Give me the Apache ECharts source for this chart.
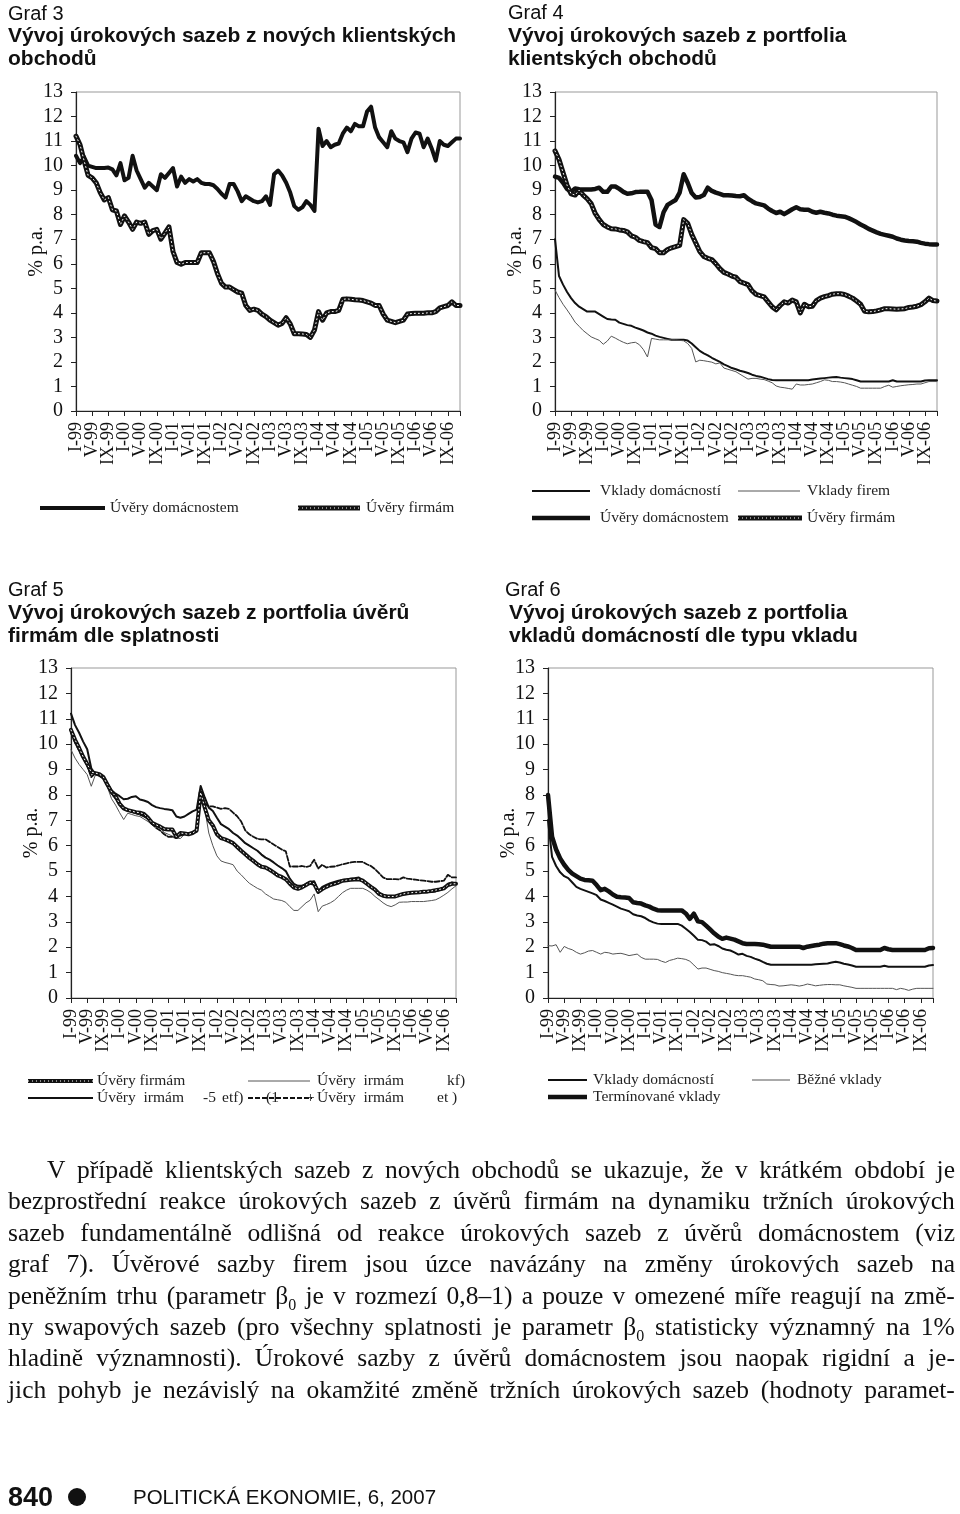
<!DOCTYPE html>
<html><head><meta charset="utf-8">
<script src="https://cdn.jsdelivr.net/npm/echarts@6/dist/echarts.min.js"></script>
<style>
html,body{margin:0;padding:0;background:#fff;}
#page{position:relative;width:960px;height:1514px;overflow:hidden;background:#fff;}
#chart{position:absolute;left:0;top:0;width:960px;height:1514px;}
.t{position:absolute;font-family:'Liberation Sans',Arial,sans-serif;color:#111;white-space:nowrap;line-height:24px;height:24px;}
.g{font-size:20px;}
.b{font-size:21px;font-weight:bold;}
.pl{position:absolute;left:8px;width:947px;display:flex;justify-content:space-between;font-family:'Liberation Serif','Times New Roman',serif;font-size:25.5px;line-height:30px;height:30px;color:#111;white-space:nowrap;}
.pl span{display:inline-block;}
.pl sub{font-size:16px;line-height:0;}
</style></head>
<body><div id="page"><div id="chart"></div>
<div class="t g" style="left:8px;top:1px">Graf 3</div>
<div class="t b" style="left:8px;top:23px">Vývoj úrokových sazeb z nových klientských</div>
<div class="t b" style="left:8px;top:46px">obchodů</div>
<div class="t g" style="left:508px;top:0px">Graf 4</div>
<div class="t b" style="left:508px;top:23px">Vývoj úrokových sazeb z portfolia</div>
<div class="t b" style="left:508px;top:46px">klientských obchodů</div>
<div class="t g" style="left:8px;top:577px">Graf 5</div>
<div class="t b" style="left:8px;top:600px">Vývoj úrokových sazeb z portfolia úvěrů</div>
<div class="t b" style="left:8px;top:623px">firmám dle splatnosti</div>
<div class="t g" style="left:505px;top:577px">Graf 6</div>
<div class="t b" style="left:509px;top:600px">Vývoj úrokových sazeb z portfolia</div>
<div class="t b" style="left:509px;top:623px">vkladů domácností dle typu vkladu</div>
<div id="para"></div>
<div class="t" style="left:8px;top:1482px;font-size:27px;font-weight:bold;height:30px;line-height:30px;">840</div>
<div style="position:absolute;left:68px;top:1488px;width:18px;height:18px;border-radius:50%;background:#111;"></div>
<div class="t" style="left:133px;top:1484px;font-size:20.5px;height:26px;line-height:26px;">POLITICKÁ EKONOMIE, 6, 2007</div>
</div>
<script>
// ---- categories ----
const romanMonths = ['I','II','III','IV','V','VI','VII','VIII','IX','X','XI','XII'];
const yearSuffixes = ['99','00','01','02','03','04','05','06'];
const months = [];
yearSuffixes.forEach(y => romanMonths.forEach(m => months.push(m + '-' + y)));
const yTicks = [0,1,2,3,4,5,6,7,8,9,10,11,12,13];

// ---- Graf 3 ----
const g3UveryDomacnostem = [10.4,10.1,10.35,10.0,9.95,9.9,9.9,9.9,9.92,9.85,9.6,10.1,9.4,9.5,10.4,9.8,9.45,9.1,9.3,9.15,9.0,9.65,9.5,9.7,9.9,9.15,9.55,9.3,9.45,9.35,9.45,9.3,9.25,9.25,9.2,9.05,8.85,8.7,9.25,9.25,8.95,8.55,8.75,8.65,8.55,8.5,8.55,8.75,8.4,9.65,9.8,9.6,9.3,8.9,8.35,8.2,8.3,8.55,8.4,8.15,11.5,10.8,11.0,10.75,10.85,10.9,11.3,11.55,11.4,11.7,11.6,11.6,12.2,12.4,11.55,11.15,10.95,10.75,11.4,11.1,11.0,10.95,10.55,11.1,11.35,11.3,10.75,11.1,10.7,10.2,11.0,10.85,10.8,10.95,11.1,11.1];
const g3UveryFirmam = [11.2,10.85,10.2,9.6,9.5,9.3,8.9,8.6,8.7,8.2,8.15,7.6,7.95,7.7,7.4,7.7,7.65,7.7,7.2,7.35,7.4,7.0,7.25,7.5,6.5,6.05,5.98,6.05,6.05,6.05,6.05,6.45,6.45,6.45,6.1,5.6,5.2,5.05,5.05,4.95,4.85,4.8,4.3,4.1,4.15,4.1,3.95,3.85,3.7,3.6,3.5,3.57,3.8,3.55,3.15,3.15,3.14,3.12,3.0,3.3,4.05,3.7,4.0,4.05,4.05,4.1,4.55,4.57,4.55,4.53,4.52,4.5,4.45,4.4,4.3,4.3,3.95,3.7,3.65,3.6,3.65,3.7,3.95,3.97,3.98,3.98,3.98,4.0,4.0,4.05,4.2,4.25,4.3,4.45,4.3,4.3];

// ---- Graf 4 ----
const g4VkladyDomacnosti = [7.0,5.5,5.15,4.85,4.6,4.4,4.25,4.15,4.05,4.05,4.05,3.95,3.85,3.75,3.73,3.72,3.6,3.55,3.5,3.47,3.4,3.34,3.28,3.2,3.15,3.07,3.02,2.98,2.94,2.9,2.9,2.9,2.9,2.87,2.75,2.6,2.45,2.35,2.27,2.17,2.08,2.0,1.9,1.83,1.75,1.7,1.64,1.6,1.55,1.48,1.43,1.4,1.35,1.3,1.26,1.25,1.25,1.25,1.25,1.25,1.25,1.25,1.25,1.25,1.28,1.3,1.32,1.34,1.36,1.38,1.39,1.36,1.34,1.32,1.3,1.25,1.2,1.2,1.2,1.2,1.2,1.2,1.2,1.2,1.25,1.2,1.2,1.2,1.2,1.2,1.2,1.2,1.24,1.25,1.25,1.25];
const g4VkladyFirem = [4.93,4.62,4.35,4.12,3.88,3.62,3.45,3.28,3.15,3.02,2.95,2.88,2.72,2.85,3.05,2.97,2.88,2.8,2.74,2.78,2.8,2.7,2.5,2.2,2.96,2.93,2.9,2.9,2.9,2.9,2.9,2.88,2.86,2.75,2.55,2.0,2.07,2.05,2.02,1.99,1.92,1.96,1.75,1.7,1.65,1.6,1.5,1.4,1.3,1.33,1.33,1.3,1.28,1.22,1.15,1.02,0.97,0.95,0.92,0.89,1.1,1.06,1.06,1.08,1.1,1.15,1.2,1.27,1.25,1.2,1.2,1.18,1.15,1.1,1.05,1.0,0.93,0.93,0.93,0.93,0.93,0.93,1.0,1.05,0.97,1.0,1.03,1.05,1.07,1.08,1.1,1.1,1.15,1.2,1.2,1.2];
const g4UveryDomacnostem = [9.55,9.5,9.3,9.05,8.93,9.07,9.04,9.03,9.03,9.03,9.05,9.1,8.93,8.93,9.15,9.15,9.05,8.93,8.85,8.87,8.92,8.93,8.93,8.93,8.6,7.6,7.5,8.1,8.4,8.5,8.6,8.9,9.65,9.3,8.88,8.7,8.72,8.8,9.1,8.97,8.9,8.85,8.79,8.79,8.78,8.76,8.75,8.79,8.65,8.55,8.46,8.42,8.38,8.25,8.15,8.07,8.12,8.02,8.12,8.22,8.3,8.22,8.2,8.2,8.12,8.08,8.12,8.08,8.05,8.0,7.96,7.94,7.92,7.86,7.78,7.7,7.6,7.52,7.42,7.35,7.28,7.22,7.18,7.14,7.1,7.03,6.98,6.95,6.93,6.92,6.9,6.85,6.82,6.8,6.79,6.79];
const g4UveryFirmam = [10.6,10.25,9.72,9.2,8.85,8.8,9.0,8.8,8.65,8.45,8.05,7.8,7.6,7.5,7.43,7.42,7.38,7.36,7.3,7.14,7.08,6.95,6.9,6.86,6.66,6.62,6.45,6.45,6.58,6.65,6.7,6.75,7.8,7.65,7.2,6.85,6.5,6.3,6.22,6.17,6.0,5.8,5.65,5.58,5.5,5.45,5.27,5.21,5.15,4.9,4.75,4.7,4.65,4.45,4.25,4.12,4.3,4.45,4.4,4.52,4.45,4.0,4.35,4.25,4.27,4.5,4.6,4.66,4.7,4.76,4.78,4.78,4.75,4.68,4.6,4.48,4.35,4.06,4.04,4.05,4.08,4.12,4.17,4.17,4.16,4.15,4.16,4.17,4.22,4.24,4.27,4.33,4.45,4.6,4.5,4.48];

// ---- Graf 5 ----
const g5UveryFirmam = [10.56,10.17,9.85,9.5,9.22,8.9,8.86,8.82,8.7,8.4,8.12,7.95,7.65,7.47,7.4,7.36,7.32,7.3,7.25,7.1,6.9,6.82,6.75,6.66,6.64,6.64,6.35,6.5,6.48,6.45,6.5,6.6,8.1,7.5,7.0,6.8,6.45,6.3,6.25,6.18,6.1,5.95,5.8,5.66,5.52,5.4,5.27,5.17,5.14,5.05,4.95,4.83,4.77,4.68,4.5,4.35,4.3,4.36,4.45,4.55,4.5,4.18,4.29,4.38,4.45,4.5,4.55,4.62,4.64,4.66,4.67,4.68,4.62,4.5,4.38,4.27,4.1,4.03,4.0,4.0,4.0,4.05,4.1,4.13,4.15,4.16,4.17,4.19,4.2,4.22,4.25,4.28,4.32,4.45,4.5,4.5];
const g5Kratkodobe = [9.78,9.45,9.2,9.0,8.8,8.34,8.78,8.78,8.6,8.3,7.85,7.6,7.3,7.03,7.28,7.23,7.18,7.15,7.05,6.95,6.83,6.76,6.7,6.52,6.45,6.38,6.3,6.28,6.45,6.5,6.55,6.58,7.9,7.45,6.5,6.0,5.6,5.4,5.34,5.3,5.25,5.0,4.85,4.68,4.52,4.42,4.32,4.25,4.1,4.0,3.9,3.87,3.84,3.77,3.6,3.45,3.45,3.6,3.75,3.85,4.1,3.4,3.62,3.68,3.75,3.85,4.0,4.15,4.25,4.32,4.32,4.32,4.32,4.25,4.15,4.0,3.88,3.75,3.65,3.6,3.67,3.77,3.78,3.78,3.8,3.8,3.8,3.8,3.82,3.84,3.87,3.95,4.05,4.16,4.3,4.42];
const g5Stredne = [11.2,10.75,10.45,10.1,9.8,9.05,8.82,8.75,8.65,8.45,8.18,8.05,7.95,7.83,7.85,7.92,7.95,7.82,7.78,7.72,7.6,7.52,7.48,7.45,7.43,7.4,7.15,7.1,7.15,7.25,7.35,7.42,8.35,7.9,7.5,7.37,7.1,6.85,6.75,6.65,6.5,6.4,6.25,6.1,6.0,5.9,5.8,5.65,5.53,5.45,5.34,5.22,5.12,5.0,4.7,4.5,4.42,4.42,4.5,4.57,4.6,4.2,4.38,4.45,4.52,4.57,4.62,4.65,4.67,4.7,4.72,4.75,4.6,4.5,4.4,4.3,4.15,4.05,4.02,4.0,4.0,4.05,4.1,4.13,4.15,4.16,4.16,4.17,4.17,4.18,4.2,4.25,4.3,4.5,4.55,4.5];
const g5Dlouhodobe = [10.45,10.05,9.75,9.45,9.15,8.7,8.85,8.8,8.68,8.38,8.05,7.85,7.6,7.45,7.4,7.32,7.28,7.22,7.15,7.05,6.85,6.7,6.6,6.45,6.35,6.35,6.3,6.4,6.45,6.45,6.5,6.55,8.0,7.65,7.55,7.55,7.5,7.45,7.48,7.45,7.3,7.16,6.95,6.6,6.45,6.35,6.27,6.25,6.25,6.15,6.05,5.95,5.85,5.78,5.18,5.18,5.18,5.2,5.16,5.2,5.45,5.1,5.25,5.14,5.17,5.18,5.22,5.27,5.3,5.34,5.36,5.36,5.36,5.27,5.2,5.08,4.92,4.75,4.68,4.68,4.68,4.67,4.75,4.7,4.68,4.66,4.64,4.62,4.6,4.58,4.58,4.6,4.62,4.85,4.75,4.75];

// ---- Graf 6 ----
const g6VkladyDomacnosti = [7.0,5.56,5.2,4.95,4.8,4.72,4.55,4.38,4.3,4.24,4.18,4.12,4.05,3.88,3.82,3.75,3.68,3.6,3.52,3.47,3.42,3.3,3.25,3.22,3.15,3.05,2.98,2.93,2.92,2.92,2.92,2.92,2.92,2.85,2.73,2.6,2.45,2.29,2.28,2.22,2.1,2.12,2.05,1.95,1.9,1.87,1.8,1.71,1.74,1.66,1.62,1.55,1.5,1.42,1.35,1.31,1.31,1.31,1.31,1.31,1.31,1.31,1.31,1.31,1.31,1.31,1.33,1.34,1.35,1.36,1.4,1.43,1.4,1.35,1.32,1.28,1.23,1.23,1.23,1.23,1.23,1.23,1.23,1.27,1.23,1.23,1.23,1.23,1.23,1.23,1.23,1.23,1.23,1.23,1.28,1.3];
const g6BezneVklady = [2.06,2.05,2.1,1.8,2.03,1.95,1.9,1.8,1.73,1.78,1.85,1.87,1.8,1.73,1.8,1.78,1.73,1.75,1.76,1.72,1.67,1.7,1.73,1.6,1.53,1.53,1.53,1.52,1.45,1.4,1.48,1.52,1.57,1.55,1.52,1.45,1.3,1.14,1.18,1.18,1.13,1.08,1.05,1.0,0.97,0.94,0.9,0.88,0.88,0.85,0.82,0.75,0.72,0.68,0.55,0.53,0.52,0.47,0.48,0.5,0.52,0.5,0.47,0.5,0.55,0.52,0.48,0.5,0.52,0.53,0.53,0.52,0.52,0.48,0.45,0.42,0.38,0.38,0.38,0.38,0.38,0.38,0.38,0.38,0.38,0.38,0.33,0.38,0.35,0.3,0.35,0.38,0.38,0.38,0.38,0.38];
const g6Terminovane = [8.0,6.35,5.85,5.5,5.25,5.05,4.9,4.8,4.7,4.65,4.64,4.62,4.45,4.25,4.3,4.2,4.08,3.99,3.97,3.96,3.94,3.77,3.74,3.72,3.65,3.6,3.52,3.46,3.45,3.45,3.45,3.45,3.45,3.45,3.33,3.12,3.32,3.02,2.99,2.85,2.7,2.55,2.42,2.33,2.38,2.34,2.3,2.23,2.16,2.13,2.13,2.13,2.12,2.1,2.06,2.02,2.02,2.02,2.02,2.02,2.02,2.02,2.02,1.97,2.02,2.05,2.08,2.1,2.14,2.16,2.16,2.16,2.12,2.07,2.03,1.97,1.89,1.89,1.89,1.89,1.89,1.89,1.89,1.97,1.92,1.89,1.89,1.89,1.89,1.89,1.89,1.89,1.89,1.89,1.96,1.97];

// ---- paragraph ----
const paraLines = [
 'V případě klientských sazeb z nových obchodů se ukazuje, že v krátkém období je',
 'bezprostřední reakce úrokových sazeb z úvěrů firmám na dynamiku tržních úrokových',
 'sazeb fundamentálně odlišná od reakce úrokových sazeb z úvěrů domácnostem (viz',
 'graf 7). Úvěrové sazby firem jsou úzce navázány na změny úrokových sazeb na',
 'peněžním trhu (parametr β<sub>0</sub> je v rozmezí 0,8–1) a pouze v omezené míře reagují na změ-',
 'ny swapových sazeb (pro všechny splatnosti je parametr β<sub>0</sub> statisticky významný na 1%',
 'hladině významnosti). Úrokové sazby z úvěrů domácnostem jsou naopak rigidní a je-',
 'jich pohyb je nezávislý na okamžité změně tržních úrokových sazeb (hodnoty paramet-'
];
const para = document.getElementById('para');
paraLines.forEach((ln, i) => {
  const d = document.createElement('div');
  d.className = 'pl';
  d.style.top = (1155 + i * 31.4) + 'px';
  const avail = i === 0 ? 908 : 947;
  if (i === 0) { d.style.left = '47px'; }
  d.style.width = avail + 'px';
  const words = ln.split(' ');
  d.innerHTML = words.map(w => '<span>' + w + '</span>').join('');
  para.appendChild(d);
  let total = 0; let chars = 0;
  d.querySelectorAll('span').forEach(s => { total += s.getBoundingClientRect().width; chars += s.textContent.length; });
  const need = total + (words.length - 1) * 4;
  if (need > avail) { d.style.letterSpacing = (-(need - avail) / chars) + 'px'; }
});

// ---- chart ----
const serif = "'Liberation Serif','Times New Roman',serif";
const grids = [
  {left:76, top:92, width:384, height:319},
  {left:555, top:92, width:382, height:319},
  {left:71, top:668, width:385, height:330},
  {left:548, top:668, width:385, height:330}
];
function xAx(i){ return {type:'category', gridIndex:i, data:months, boundaryGap:false,
  axisLine:{show:true, lineStyle:{color:'#222', width:1.2}},
  axisTick:{show:true, interval:3, length:5, lineStyle:{color:'#222'}},
  axisLabel:{interval:0, formatter:(val, idx) => (idx % 4 === 0 ? val : ''), hideOverlap:false,
    rotate:90, margin:11, fontFamily:serif, fontSize:18, color:'#111'},
  splitLine:{show:false}}; }
function yAx(i){ return {type:'value', gridIndex:i, min:yTicks[0], max:yTicks[yTicks.length-1], interval:1,
  name:'% p.a.', nameLocation:'middle', nameGap:29, nameRotate:90, nameMoveOverlap:false,
  nameTextStyle:{fontFamily:serif, fontSize:20, color:'#111'},
  axisLine:{show:true, lineStyle:{color:'#222', width:1.2}},
  axisTick:{show:true, length:5, lineStyle:{color:'#222'}},
  axisLabel:{margin:13, fontFamily:serif, fontSize:20, color:'#111'},
  splitLine:{show:false}}; }
function ln(name, gi, data, color, width, type, z){ return {type:'line', name:name, xAxisIndex:gi, yAxisIndex:gi, data:data,
  symbol:'none', silent:true, animation:false, z:z||2, lineStyle:{color:color, width:width, type:type||'solid', join:'round', cap:'round'}}; }
function tex(name, gi, data, width){ return [ln(name, gi, data, '#111', width, 'solid', 3),
  ln(name+'_t', gi, data, '#fff', 1, [1,3], 4)]; }

const series = [
  ln('Úvěry domácnostem', 0, g3UveryDomacnostem, '#111', 4),
  ...tex('Úvěry firmám', 0, g3UveryFirmam, 5),
  ln('Vklady domácností', 1, g4VkladyDomacnosti, '#111', 2),
  ln('Vklady firem', 1, g4VkladyFirem, '#555', 1),
  ln('Úvěry domácnostem 4', 1, g4UveryDomacnostem, '#111', 4.5),
  ...tex('Úvěry firmám 4', 1, g4UveryFirmam, 5),
  ln('Krátkodobé', 2, g5Kratkodobe, '#555', 1),
  ln('Střednědobé', 2, g5Stredne, '#111', 2),
  ln('Dlouhodobé', 2, g5Dlouhodobe, '#111', 1.8, [5,2]),
  ...tex('Úvěry firmám 5', 2, g5UveryFirmam, 4),
  ln('Běžné vklady', 3, g6BezneVklady, '#555', 1),
  ln('Vklady domácností 6', 3, g6VkladyDomacnosti, '#111', 2),
  ln('Termínované vklady', 3, g6Terminovane, '#111', 4.5)
];

// legend graphics
const G = [];
function gl(x1, x2, y, w, color, dash){ G.push({type:'line', shape:{x1:x1,y1:y,x2:x2,y2:y}, style:{stroke:color, lineWidth:w, lineDash:dash||null}, silent:true}); }
function gtex(x1, x2, y, w){ gl(x1,x2,y,w,'#111'); gl(x1,x2,y,1,'#fff',[1,3]); }
function gt(x, y, s){ G.push({type:'text', x:x, y:y, style:{text:s, font:"15.5px "+serif, fill:'#222', verticalAlign:'middle', align:'left'}, silent:true}); }
// Graf 3
gl(40,105,508,4,'#111'); gt(110,508,'Úvěry domácnostem');
gtex(298,360,508,5); gt(366,508,'Úvěry firmám');
// Graf 4
gl(532,590,491,2,'#111'); gt(600,491,'Vklady domácností');
gl(738,800,491,1,'#555'); gt(807,491,'Vklady firem');
gl(532,590,518,4.5,'#111'); gt(600,518,'Úvěry domácnostem');
gtex(738,802,518,5); gt(807,518,'Úvěry firmám');
// Graf 5
gtex(28,93,1081,4); gt(97,1081,'Úvěry firmám');
gl(248,310,1081,1,'#555'); gt(317,1081,'Úvěry  irmám'); gt(447,1081,'kf)');
gl(28,93,1098,2,'#111'); gt(97,1098,'Úvěry  irmám'); gt(203,1098,'-5'); gt(222,1098,'etf)');
gl(248,312,1098,1.8,'#111',[5,2]); gt(266,1098,'(1'); gt(306,1098,'+');
gt(317,1098,'Úvěry  irmám'); gt(437,1098,'et )');
// Graf 6
gl(548,587,1080,2,'#111'); gt(593,1080,'Vklady domácností');
gl(752,790,1080,1,'#555'); gt(797,1080,'Běžné vklady');
gl(548,587,1097,4.5,'#111'); gt(593,1097,'Termínované vklady');

const chart = echarts.init(document.getElementById('chart'), null, {renderer:'canvas'});
chart.setOption({
  animation:false,
  backgroundColor:'transparent',
  grid: grids.map(g => Object.assign({show:true, borderColor:'#999', borderWidth:1, backgroundColor:'transparent', containLabel:false, outerBoundsMode:'none'}, g)),
  xAxis: [0,1,2,3].map(xAx),
  yAxis: [0,1,2,3].map(yAx),
  series: series,
  graphic: G
});
</script>
</body></html>
